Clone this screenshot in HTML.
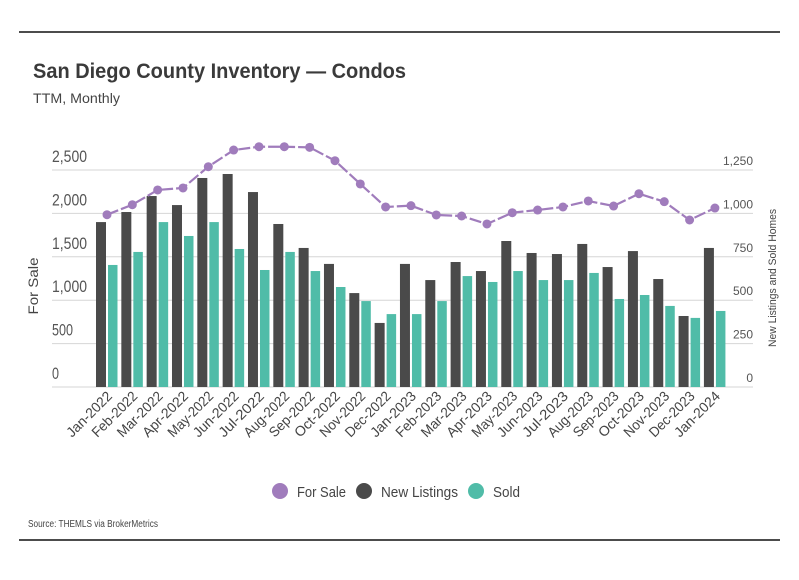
<!DOCTYPE html>
<html><head><meta charset="utf-8"><style>
body{margin:0;background:#fff;}
svg text{font-family:"Liberation Sans",sans-serif;}
</style></head><body>
<svg width="799" height="575" viewBox="0 0 799 575">
<line x1="19" y1="32" x2="780" y2="32" stroke="#111" stroke-width="1.5"/>
<text x="33" y="78" font-size="21" font-weight="bold" fill="#3a3a3a" textLength="373" lengthAdjust="spacingAndGlyphs">San Diego County Inventory — Condos</text>
<text x="33" y="103" font-size="14" fill="#444" textLength="87" lengthAdjust="spacingAndGlyphs">TTM, Monthly</text>
<g id="grid"></g>
<g id="bars"></g>
<g id="line"></g>
<g id="axes"></g>
<text transform="translate(38,286) rotate(-90)" text-anchor="middle" font-size="14" fill="#444" textLength="57" lengthAdjust="spacingAndGlyphs">For Sale</text>
<text transform="translate(776,278) rotate(-90)" text-anchor="middle" font-size="11" fill="#444" textLength="138" lengthAdjust="spacingAndGlyphs">New Listings and Sold Homes</text>
<g>
<g><circle cx="280" cy="491" r="8" fill="#a07cbc"/><text x="297" y="497" font-size="15" fill="#444" textLength="49" lengthAdjust="spacingAndGlyphs">For Sale</text></g>
<g><circle cx="364" cy="491" r="8" fill="#4a4a4a"/><text x="381" y="497" font-size="15" fill="#444" textLength="77" lengthAdjust="spacingAndGlyphs">New Listings</text></g>
<g><circle cx="476" cy="491" r="8" fill="#50bca8"/><text x="493" y="497" font-size="15" fill="#444" textLength="27" lengthAdjust="spacingAndGlyphs">Sold</text></g>
</g>
<text x="28" y="527" font-size="10" fill="#444" textLength="130" lengthAdjust="spacingAndGlyphs">Source:  THEMLS via BrokerMetrics</text>
<line x1="19" y1="540" x2="780" y2="540" stroke="#111" stroke-width="1.5"/>
</svg>
<script>
const categories=["Jan-2022","Feb-2022","Mar-2022","Apr-2022","May-2022","Jun-2022","Jul-2022","Aug-2022","Sep-2022","Oct-2022","Nov-2022","Dec-2022","Jan-2023","Feb-2023","Mar-2023","Apr-2023","May-2023","Jun-2023","Jul-2023","Aug-2023","Sep-2023","Oct-2023","Nov-2023","Dec-2023","Jan-2024"];
const forSale=[1985,2100,2270,2293,2538,2730,2768,2768,2761,2607,2339,2074,2089,1982,1970,1878,2008,2039,2074,2143,2085,2227,2135,1924,2062];
const newListings=[950,1008,1100,1048,1204,1227,1123,939,801,709,541,369,709,616,720,668,841,772,766,824,691,783,622,409,801];
const sold=[703,778,950,870,950,795,674,778,668,576,495,420,420,495,639,605,668,616,616,657,507,530,467,398,438];
const leftTicks=[0,500,1000,1500,2000,2500];
const leftTickLabels=["0","500","1,000","1,500","2,000","2,500"];
const rightTickLabels=["0","250","500","750","1,000","1,250"];
const NS="http://www.w3.org/2000/svg";
const y0=387,pxPerUnit=43.4/500;
const yL=v=>y0-v*pxPerUnit;
const yR=v=>y0-v*2*pxPerUnit;
const xC=i=>107+i*25.33;
function mk(tag,attrs,parent){const e=document.createElementNS(NS,tag);for(const k in attrs)e.setAttribute(k,attrs[k]);document.getElementById(parent).appendChild(e);return e;}
leftTicks.forEach((t,i)=>{
  const g=mk('line',{x1:52,x2:753,y1:yL(t),y2:yL(t),stroke:'#d6d6d6','stroke-width':1},'grid');
  
  
  const lab=leftTickLabels[i];
  const l=mk('text',{x:52,y:yL(t)-8,'font-size':17,fill:'#555',textLength:lab.length*7,lengthAdjust:'spacingAndGlyphs'},'axes');
  l.textContent=lab;
  
  
  const r=mk('text',{x:753,y:yL(t)-5,'font-size':12,fill:'#555','text-anchor':'end'},'axes');
  r.textContent=rightTickLabels[i];
  
  
});
categories.forEach((c,i)=>{
  const cx=xC(i);
  const b1=mk('rect',{x:cx-11,y:yR(newListings[i]),width:10,height:y0-yR(newListings[i]),fill:'#4a4a4a'},'bars');
  
  
  const b2=mk('rect',{x:cx+1,y:yR(sold[i]),width:9.5,height:y0-yR(sold[i]),fill:'#50bca8'},'bars');
  
  
  const t=mk('text',{transform:`translate(${cx+6},397) rotate(-45)`,'text-anchor':'end','font-size':14,fill:'#444',textLength:58,lengthAdjust:'spacingAndGlyphs'},'axes');
  t.textContent=c;
  
  
});
const pts=forSale.map((v,i)=>xC(i)+','+yL(v)).join(' ');
const pl=mk('polyline',{points:pts,fill:'none',stroke:'#a07cbc','stroke-width':2.2,'stroke-dasharray':'12 3'},'line');


forSale.forEach((v,i)=>{
  const d=mk('circle',{cx:xC(i),cy:yL(v),r:4.5,fill:'#a07cbc'},'line');
  
  
});
</script>
</body></html>
